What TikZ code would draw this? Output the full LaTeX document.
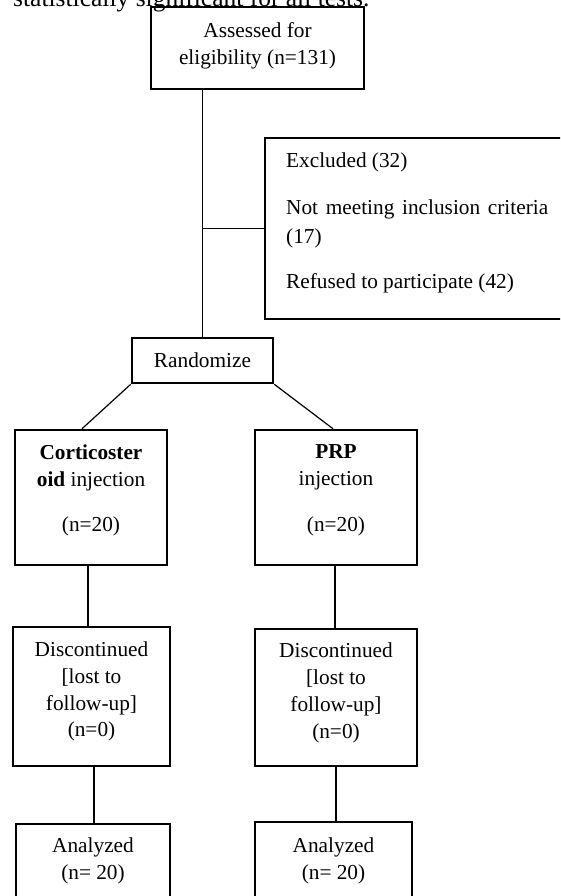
\documentclass[tikz,border=0pt]{standalone}
\usepackage{fontspec}
\setmainfont{Liberation Serif}
\usetikzlibrary{calc}
\begin{document}
\begin{tikzpicture}[x=1pt,y=-1pt,
  boxx/.style={draw, line width=2.5pt, inner sep=0pt},
  txt/.style={font=\fontsize{21.3}{26.8}\selectfont, align=center, inner sep=0pt},
  conn/.style={draw, line width=1.2pt}]
\useasboundingbox (0,0) rectangle (560,896);
\clip (0,0) rectangle (560,896);
% partial top line of text
\node[anchor=base west, font=\fontsize{25.5}{30}\selectfont, inner sep=0pt] (toptext) at (13,7) {statistically significant for all tests.};
% boxes
\node[boxx, minimum width=213pt, minimum height=82pt] (assess) at (257.5,48) {};
\node[txt] (assessT) at (257.5,45.5) {Assessed for\\eligibility (n=131)};
\node[boxx, minimum width=310pt, minimum height=181pt] (excl) at (420,228.5) {};
\node[txt, anchor=west] (ex1) at (286,162) {Excluded (32)};
\node[txt, anchor=west] (ex2) at (286,209) {\makebox[262pt][s]{Not meeting inclusion criteria}};
\node[txt, anchor=west] (ex3) at (286,238) {(17)};
\node[txt, anchor=west] (ex4) at (286,283) {Refused to participate (42)};
\node[boxx, txt, draw, line width=2.5pt, minimum width=141pt, minimum height=45pt] (rand) at (202.5,360.5) {Randomize};
\node[boxx, minimum width=152pt, minimum height=135pt] (trtL) at (91,497.5) {};
\node[txt] (trtLT) at (91,490.5) {\textbf{Corticoster}\\\textbf{oid} injection\\[19pt](n=20)};
\node[boxx, minimum width=162pt, minimum height=135pt] (trtR) at (336,497.5) {};
\node[txt] (trtRT) at (336,490.5) {\textbf{PRP}\\injection\\[19pt](n=20)};
\node[boxx, minimum width=157pt, minimum height=139pt] (discL) at (91.5,696.5) {};
\node[txt] (discLT) at (91.5,691.5) {Discontinued\\{[}lost to\\follow-up]\\(n=0)};
\node[boxx, minimum width=162pt, minimum height=137pt] (discR) at (336,697.5) {};
\node[txt] (discRT) at (336,693) {Discontinued\\{[}lost to\\follow-up]\\(n=0)};
\node[boxx, minimum width=154pt, minimum height=106pt] (anaL) at (93,877) {};
\node[txt] (anaLT) at (93,861) {Analyzed\\(n= 20)};
\node[boxx, minimum width=157pt, minimum height=108pt] (anaR) at (333.5,876) {};
\node[txt] (anaRT) at (333.5,861) {Analyzed\\(n= 20)};
% connectors
\draw[conn] (rand.north |- assess.south) -- (rand.north);
\coordinate (junc) at (rand.north |- excl.west);
\draw[conn] (junc) -- (excl.west);
\draw[conn] (rand.south west) -- ([xshift=-9pt]trtL.north);
\draw[conn] (rand.south east) -- ([xshift=-3pt]trtR.north);
\draw[conn] ([xshift=-3pt]trtL.south) -- ([xshift=-3.5pt]discL.north);
\draw[conn] ([xshift=-1pt]trtR.south) -- ([xshift=-1pt]discR.north);
\draw[conn] ([xshift=2.5pt]discL.south) -- ([xshift=1pt]anaL.north);
\draw[conn] (discR.south) -- ([xshift=2.5pt]anaR.north);
\end{tikzpicture}
\end{document}
